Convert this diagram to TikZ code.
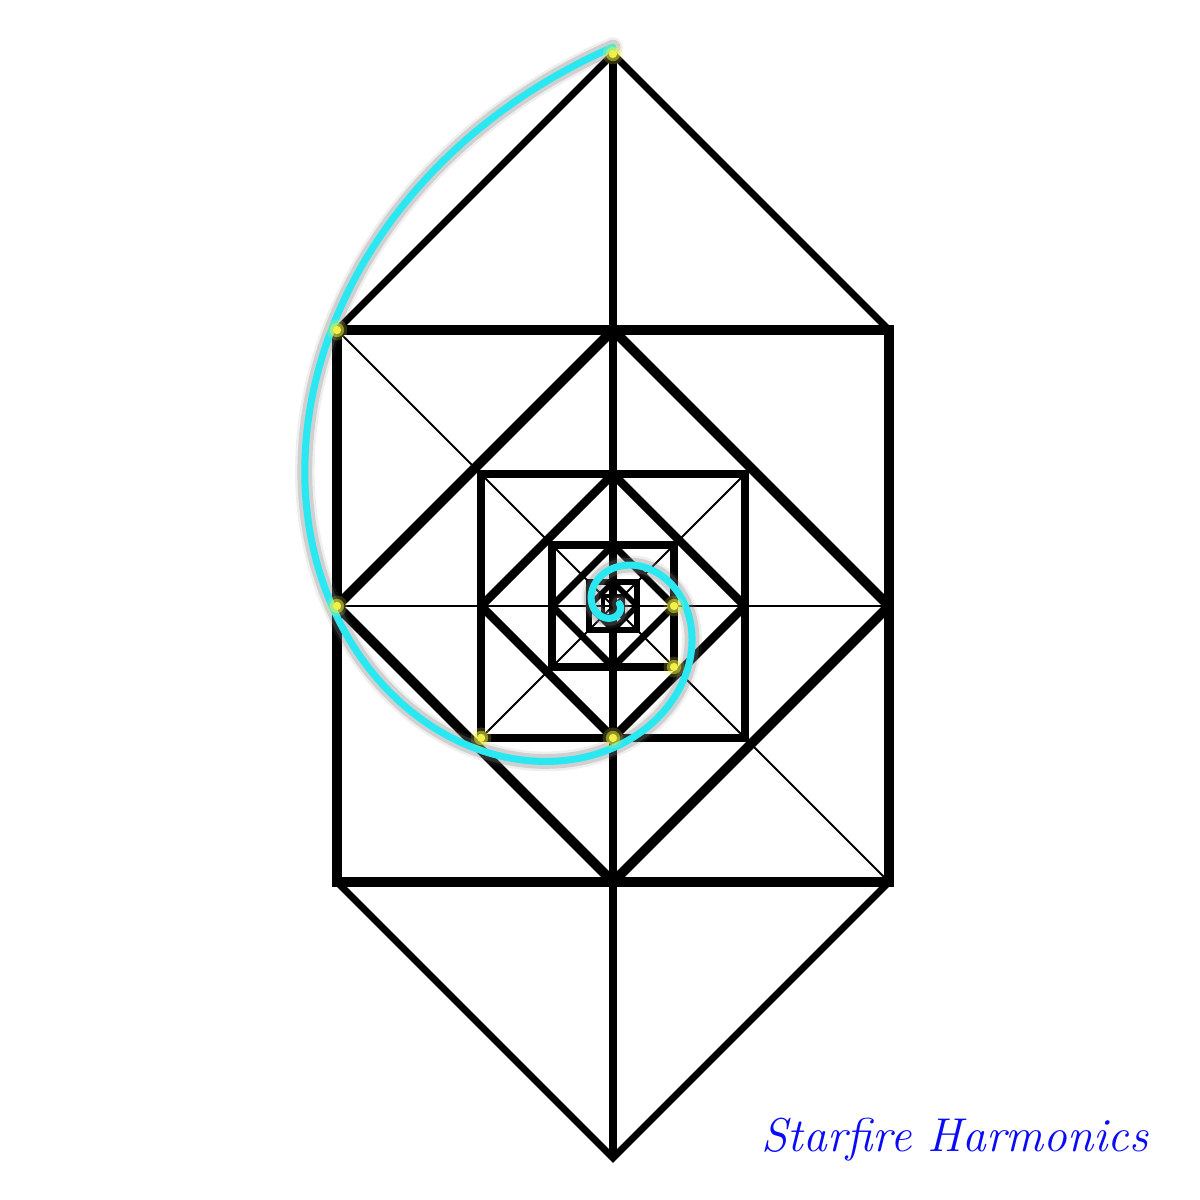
\documentclass[tikz,border=0pt]{standalone}
\usepackage{xcolor}
\usepackage{tikz}
\usetikzlibrary{calc,positioning}
\definecolor{spiralcyan}{RGB}{42,232,242}
\definecolor{glowyellow}{RGB}{240,240,70}
\definecolor{brandblue}{RGB}{10,10,250}
\tikzset{
  outline/.style={draw=black, line width=2pt, line join=miter},
  frame/.style={draw=black, line width=#1, line join=miter},
  diamond frame/.style={draw=black, line width=#1, line join=bevel},
  hair/.style={draw=black, line width=0.6pt},
  brand/.style={font=\fontsize{13.5}{16}\selectfont\itshape, text=brandblue, inner sep=0pt}
}

\begin{document}
\begin{tikzpicture}[x=2.76cm, y=2.76cm]
\useasboundingbox[fill=white] (-6.13cm,-5.94cm) rectangle (5.87cm,6.06cm);
% key points
\coordinate (top) at (0,2);
\coordinate (bot) at (0,-2);
\coordinate (tl) at (-1,1);
\coordinate (tr) at (1,1);
\coordinate (bl) at (-1,-1);
\coordinate (br) at (1,-1);
\coordinate (ml) at (-1,0);
\coordinate (mr) at (1,0);
\coordinate (sqtr) at (0.478,0.478);
\coordinate (sqbl) at (-0.478,-0.478);
\coordinate (dmb) at (0,-0.478);
\coordinate (sqbr) at (0.221,-0.221);
\coordinate (dmr) at (0.221,0);
% thin guides
\draw[hair] (ml) -- (mr);
\draw[hair] (tl) -- (br);
\draw[hair] (sqtr) -- (sqbl);
% roof, keel and axis
\draw[outline] (tl) -- (top) -- (tr);
\draw[outline] (bl) -- (bot) -- (br);
\draw[outline] (top) -- (bot);
% nested squares and diamonds
\foreach \s/\w in {1/2.8pt, 0.478/2.4pt, 0.221/2.0pt, 0.087/1.6pt}{
  \draw[frame=\w] (-\s,-\s) rectangle (\s,\s);
  \draw[diamond frame=\w] (0,\s) -- (\s,0) -- (0,-\s) -- (-\s,0) -- cycle;
}
\draw[frame=1.1pt] (-0.036,-0.036) rectangle (0.036,0.036);
% spiral with its halo
\foreach \w/\col/\o in {5.6pt/gray/0.12, 4.2pt/gray/0.28, 2.0pt/spiralcyan/1}
  \draw[line width=\w, color=\col, opacity=\o, line cap=round]
    plot[domain=90:740, samples=420, smooth] (\x:{2.014*exp(-0.0077016*(\x-90))+0.011});
% glowing points
\foreach \p in {top,tl,ml,sqbl,dmb,sqbr,dmr}{
  \fill[glowyellow, opacity=0.2] (\p) circle (0.038);
  \fill[glowyellow, opacity=0.5] (\p) circle (0.026);
  \fill[glowyellow] (\p) circle (0.015);
}
\node[brand] (brand) at (3.42cm,-5.34cm) {Starfire Harmonics};
\end{tikzpicture}
\end{document}
